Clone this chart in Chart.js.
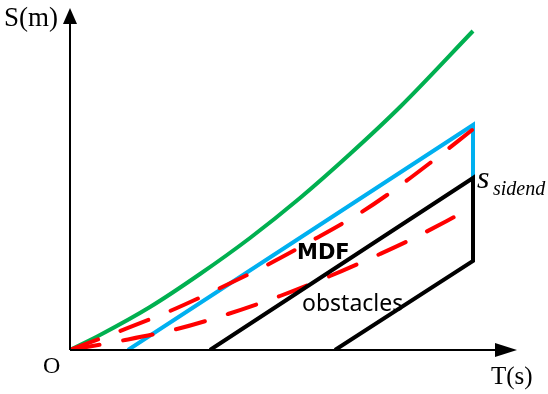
<!DOCTYPE html>
<html>
<head>
<meta charset="UTF-8">
<title>MDF obstacles</title>
<script src="https://cdn.jsdelivr.net/npm/chart.js@4.4.1/dist/chart.umd.min.js"></script>
<style>
  body { margin: 0; padding: 0; background: #fff; }
  #wrap { position: relative; width: 548px; height: 394px; }
</style>
</head>
<body>
<div id="wrap"><canvas id="grafico" width="548" height="394"></canvas></div>
<script>
// curva verde (limite superior)
const greenT = [0, 30, 80, 130, 180, 230, 280, 330, 403];
const greenS = [0, 15, 43, 76, 112, 152, 196, 243, 319];

// MDF (azul)
const blueT = [58, 403, 403];
const blueS = [0, 225, 172];

// rojas discontinuas
const redUpT = [0, 50, 100, 148, 197, 243, 290, 317, 360, 402];
const redUpS = [0, 19, 39, 61, 85, 110, 137, 155, 187, 220];
const redLowT = [0, 50, 107, 158, 210, 260, 310, 340, 388, 403];
const redLowS = [0, 9, 21, 36, 54, 74, 96, 110, 135, 143];

// obstaculo (negro)
const obsT = [140, 403, 403, 265];
const obsS = [0, 172, 89, 0];

const xMax = 447;
const yMax = 342;

function puntos(ts, ss) {
    return ts.map((t, i) => ({ x: t, y: ss[i] }));
}

const ejes = {
    id: 'ejes',
    afterDatasetsDraw(chart) {
        const ctx = chart.ctx;
        const xs = chart.scales.x, ys = chart.scales.y;
        const x0 = xs.getPixelForValue(0), y0 = ys.getPixelForValue(0);
        const xEnd = xs.getPixelForValue(xMax), yEnd = ys.getPixelForValue(yMax);
        ctx.save();
        ctx.strokeStyle = '#000';
        ctx.fillStyle = '#000';
        ctx.lineWidth = 2;
        ctx.beginPath();
        ctx.moveTo(x0, y0);
        ctx.lineTo(x0, yEnd + 14);
        ctx.moveTo(x0, y0);
        ctx.lineTo(xEnd - 18, y0);
        ctx.stroke();
        // flechas
        ctx.beginPath();
        ctx.moveTo(x0, yEnd);
        ctx.lineTo(x0 - 7, yEnd + 16);
        ctx.lineTo(x0 + 7, yEnd + 16);
        ctx.closePath();
        ctx.fill();
        ctx.beginPath();
        ctx.moveTo(xEnd, y0);
        ctx.lineTo(xEnd - 22, y0 - 7);
        ctx.lineTo(xEnd - 22, y0 + 7);
        ctx.closePath();
        ctx.fill();

        ctx.textBaseline = 'alphabetic';
        ctx.font = '27px "Liberation Serif"';
        ctx.fillText('S(m)', 4, 26);
        ctx.font = '24px "Liberation Serif"';
        ctx.fillText('O', 43, 373);
        ctx.font = '25px "Liberation Serif"';
        ctx.fillText('T(s)', 491, 384);

        ctx.font = 'bold 21px "DejaVu Sans"';
        ctx.fillText('MDF', 297, 259);
        ctx.font = '23px "Noto Sans"';
        ctx.fillText('obstacles', 302, 311);

        ctx.font = 'italic 32px "Liberation Serif"';
        ctx.fillText('s', 477, 188);
        ctx.font = 'italic 20px "Liberation Serif"';
        ctx.fillText('sidend', 493, 195);
        ctx.restore();
    }
};

new Chart(document.getElementById('grafico'), {
    type: 'scatter',
    data: {
        datasets: [
            {
                data: puntos(obsT, obsS),
                showLine: true,
                borderColor: '#000',
                borderWidth: 4,
                pointRadius: 0,
                borderJoinStyle: 'miter'
            },
            {
                data: puntos(redLowT, redLowS),
                showLine: true,
                borderColor: '#ff0000',
                borderWidth: 4,
                borderDash: [30, 24],
                borderCapStyle: 'round',
                pointRadius: 0,
                cubicInterpolationMode: 'monotone'
            },
            {
                data: puntos(redUpT, redUpS),
                showLine: true,
                borderColor: '#ff0000',
                borderWidth: 4,
                borderDash: [30, 24],
                borderCapStyle: 'round',
                pointRadius: 0,
                cubicInterpolationMode: 'monotone'
            },
            {
                data: puntos(blueT, blueS),
                showLine: true,
                borderColor: '#00b0f0',
                borderWidth: 4,
                pointRadius: 0
            },
            {
                data: puntos(greenT, greenS),
                showLine: true,
                borderColor: '#00b050',
                borderWidth: 4,
                pointRadius: 0,
                cubicInterpolationMode: 'monotone'
            }
        ]
    },
    options: {
        responsive: false,
        animation: false,
        layout: { padding: { left: 70, right: 31, top: 8, bottom: 44 } },
        plugins: {
            legend: { display: false },
            tooltip: { enabled: false }
        },
        scales: {
            x: { type: 'linear', min: 0, max: xMax, display: false },
            y: { type: 'linear', min: 0, max: yMax, display: false }
        }
    },
    plugins: [ejes]
});
</script>
</body>
</html>
